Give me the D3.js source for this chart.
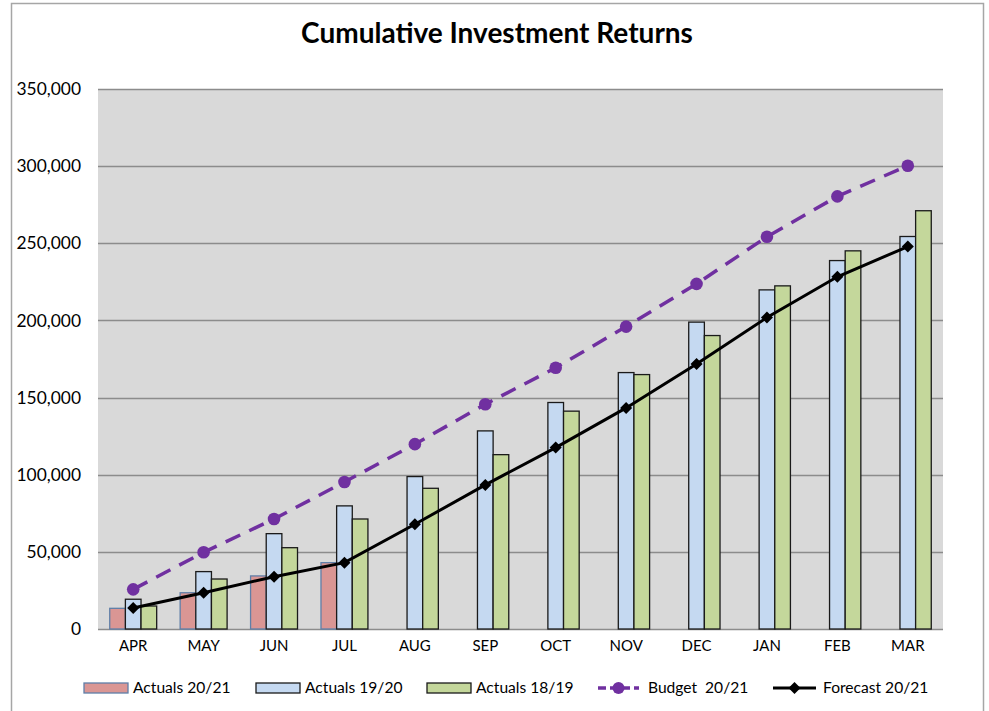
<!DOCTYPE html>
<html>
<head>
<meta charset="utf-8">
<script src="https://cdn.jsdelivr.net/npm/d3@7"></script>
<style>
  body { margin: 0; background: #fff; }
  text { font-family: Lato, "Open Sans", sans-serif; fill: #000; }
</style>
</head>
<body>
<div id="chart"></div>
<script>
var months = ["APR", "MAY", "JUN", "JUL", "AUG", "SEP", "OCT", "NOV", "DEC", "JAN", "FEB", "MAR"];
var actuals2021 = [13400, 23500, 34400, 43000];
var actuals1920 = [19300, 37200, 61800, 79800, 98800, 128400, 146800, 166200, 198900, 219800, 238800, 254400];
var actuals1819 = [14900, 32400, 52700, 71300, 91200, 113000, 141200, 164900, 190200, 222400, 245100, 271100];
var budget2021 = [25700, 49700, 71300, 95300, 119800, 145700, 169300, 196000, 223700, 254200, 280400, 300300];
var forecast2021 = [13600, 23500, 33900, 43000, 67900, 93400, 117600, 143300, 171700, 201900, 228300, 247900];
var yTicks = [0, 50000, 100000, 150000, 200000, 250000, 300000, 350000];

var width = 989, height = 711,
    plot = {left: 98, right: 943, top: 89, bottom: 629};

var svg = d3.select("#chart").append("svg")
    .attr("width", width)
    .attr("height", height);

// chart frame
svg.append("rect")
    .attr("x", 11.5).attr("y", 3.5)
    .attr("width", 972).attr("height", 720)
    .attr("fill", "none")
    .attr("stroke", "#a6a6a6")
    .attr("stroke-width", 1.5);

svg.append("text")
    .attr("x", 497).attr("y", 43)
    .attr("text-anchor", "middle")
    .style("font-size", "28px")
    .style("font-weight", "bold")
    .text("Cumulative Investment Returns");

var x = d3.scaleBand().domain(months).range([plot.left, plot.right]).padding(0);
var y = d3.scaleLinear().domain([0, 350000]).range([plot.bottom, plot.top]);

var barW = x.bandwidth() / 4.5;
var series = ["a2021", "a1920", "a1819"];
var xs = d3.scaleBand().domain(series).range([0, barW * 3]);
var groupOffset = (x.bandwidth() - barW * 3) / 2;

svg.append("rect")
    .attr("x", plot.left).attr("y", plot.top)
    .attr("width", plot.right - plot.left)
    .attr("height", plot.bottom - plot.top)
    .attr("fill", "#d9d9d9");

// grid lines
svg.append("g")
    .selectAll("line")
    .data(yTicks)
    .enter().append("line")
    .attr("x1", plot.left).attr("x2", plot.right)
    .attr("y1", function (d) { return Math.round(y(d)) + 0.5; })
    .attr("y2", function (d) { return Math.round(y(d)) + 0.5; })
    .attr("stroke", "#8c8c8c")
    .attr("stroke-width", 1.3);

// y axis labels
var yAxis = d3.axisLeft(y).tickValues(yTicks).tickSize(0).tickPadding(0)
    .tickFormat(function (d) { return d3.format(",")(d); });
var gy = svg.append("g").attr("transform", "translate(81,0)").call(yAxis);
gy.select(".domain").remove();
gy.selectAll("text").style("font-size", "17.4px").style("font-family", "Lato, sans-serif");

// x axis labels
var xAxis = d3.axisBottom(x).tickSize(0).tickPadding(0);
var gx = svg.append("g").attr("transform", "translate(0,640)").call(xAxis);
gx.select(".domain").remove();
gx.selectAll("text").style("font-size", "15px").style("font-family", "Lato, sans-serif");

var barSeries = [
    {key: "a2021", values: actuals2021, fill: "#da9694", stroke: "#5f7fa8"},
    {key: "a1920", values: actuals1920, fill: "#c5d9f1", stroke: "#1a1a1a"},
    {key: "a1819", values: actuals1819, fill: "#c4d79b", stroke: "#1a1a1a"}
];

barSeries.forEach(function (s) {
    svg.append("g")
        .selectAll("rect")
        .data(s.values)
        .enter().append("rect")
        .attr("x", function (d, i) { return x(months[i]) + groupOffset + xs(s.key); })
        .attr("y", function (d) { return y(d); })
        .attr("width", barW)
        .attr("height", function (d) { return y(0) - y(d); })
        .attr("fill", s.fill)
        .attr("stroke", s.stroke)
        .attr("stroke-width", 1.3);
});

var cx = function (d, i) { return x(months[i]) + x.bandwidth() / 2; };
var line = d3.line().x(cx).y(function (d) { return y(d); });

// budget line
svg.append("path")
    .datum(budget2021)
    .attr("d", line)
    .attr("fill", "none")
    .attr("stroke", "#7030a0")
    .attr("stroke-width", 3.5)
    .attr("stroke-dasharray", "16,10");
svg.append("g")
    .selectAll("circle")
    .data(budget2021)
    .enter().append("circle")
    .attr("cx", cx)
    .attr("cy", function (d) { return y(d); })
    .attr("r", 6.3)
    .attr("fill", "#7030a0");

// forecast line
svg.append("path")
    .datum(forecast2021)
    .attr("d", line)
    .attr("fill", "none")
    .attr("stroke", "#000")
    .attr("stroke-width", 3);
var diamond = d3.symbol().type(d3.symbolSquare).size(72);
svg.append("g")
    .selectAll("path")
    .data(forecast2021)
    .enter().append("path")
    .attr("d", diamond)
    .attr("transform", function (d, i) { return "translate(" + cx(d, i) + "," + y(d) + ") rotate(45)"; })
    .attr("fill", "#000");

// legend
var legendY = 688;
var legendItems = [
    {label: "Actuals 20/21", type: "bar", fill: "#da9694", stroke: "#5f7fa8", x: 84},
    {label: "Actuals 19/20", type: "bar", fill: "#c5d9f1", stroke: "#1a1a1a", x: 256},
    {label: "Actuals 18/19", type: "bar", fill: "#c4d79b", stroke: "#1a1a1a", x: 427},
    {label: "Budget  20/21", type: "budget", x: 598},
    {label: "Forecast 20/21", type: "forecast", x: 773}
];

var lg = svg.append("g");
legendItems.forEach(function (it) {
    var g = lg.append("g").attr("transform", "translate(" + it.x + "," + legendY + ")");
    if (it.type === "bar") {
        g.append("rect")
            .attr("x", 0).attr("y", -5)
            .attr("width", 44).attr("height", 10)
            .attr("fill", it.fill)
            .attr("stroke", it.stroke)
            .attr("stroke-width", 1.3);
    } else if (it.type === "budget") {
        g.append("line").attr("x1", 0).attr("x2", 41).attr("y1", 0).attr("y2", 0)
            .attr("stroke", "#7030a0").attr("stroke-width", 3.5).attr("stroke-dasharray", "8,4");
        g.append("circle").attr("cx", 20.5).attr("cy", 0).attr("r", 6).attr("fill", "#7030a0");
    } else {
        g.append("line").attr("x1", 0).attr("x2", 43).attr("y1", 0).attr("y2", 0)
            .attr("stroke", "#000").attr("stroke-width", 3);
        g.append("path").attr("d", diamond).attr("transform", "translate(21.5,0) rotate(45)").attr("fill", "#000");
    }
    g.append("text")
        .attr("x", it.type === "bar" ? 49 : 50)
        .attr("y", 0)
        .attr("dy", "0.35em")
        .style("font-size", "15.6px")
        .attr("xml:space", "preserve")
        .text(it.label);
});
</script>
</body>
</html>
